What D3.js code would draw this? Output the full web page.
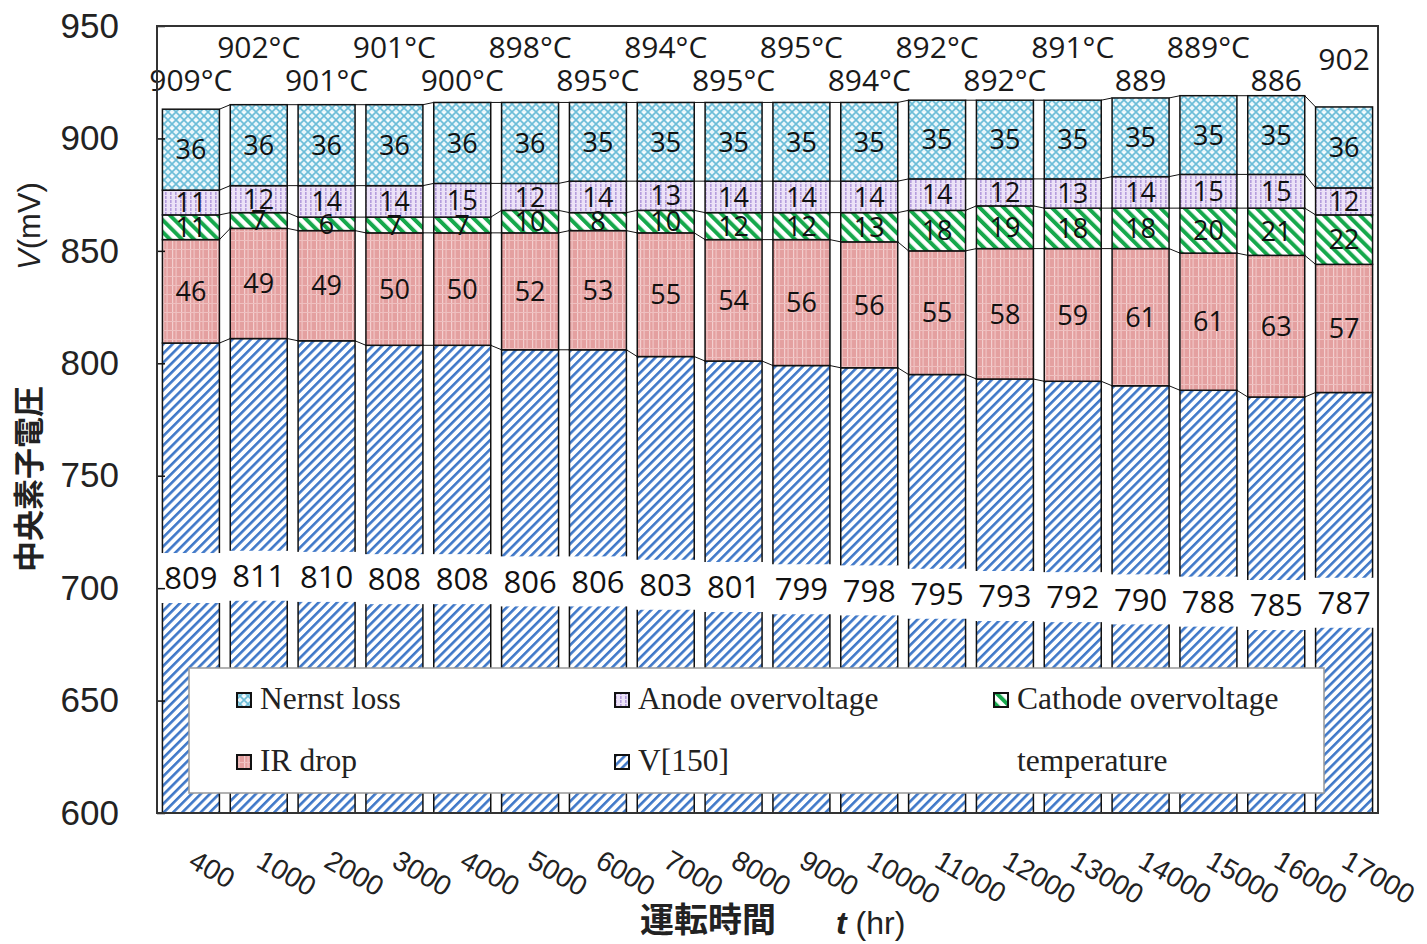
<!DOCTYPE html>
<html>
<head>
<meta charset="utf-8">
<script src="https://cdn.jsdelivr.net/npm/d3@7"></script>
<style>
  body { margin: 0; background: #fff; }
  svg { display: block; }
</style>
</head>
<body>
<div id="chart"></div>
<script>
// operating hours (x categories)
const hours = ["400","1000","2000","3000","4000","5000","6000","7000","8000","9000",
  "10000","11000","12000","13000","14000","15000","16000","17000"];
// stacked components (mV)
const v150    = [809,811,810,808,808,806,806,803,801,799,798,795,793,792,790,788,785,787];
const irDrop  = [46,49,49,50,50,52,53,55,54,56,56,55,58,59,61,61,63,57];
const cathode = [11,7,6,7,7,10,8,10,12,12,13,18,19,18,18,20,21,22];
const anode   = [11,12,14,14,15,12,14,13,14,14,14,14,12,13,14,15,15,12];
const nernst  = [36,36,36,36,36,36,35,35,35,35,35,35,35,35,35,35,35,36];
// temperature labels above the bars
const tempLabels = ["909°C","902°C","901°C","901°C","900°C","898°C","895°C","894°C","895°C",
  "895°C","894°C","892°C","892°C","891°C","889","889°C","886","902"];
const yTicks = [600,650,700,750,800,850,900,950];

const keys = ["v150","ir","cathode","anode","nernst"];
const names = {nernst:"Nernst loss", anode:"Anode overvoltage", cathode:"Cathode overvoltage",
  ir:"IR drop", v150:"V[150]"};

const width = 1427, height = 944;
const plotL = 157, plotR = 1378, plotT = 26, plotB = 813;

const svg = d3.select("#chart").append("svg")
  .attr("width", width).attr("height", height);

// ---- patterns
const defs = svg.append("defs");
function stripes(id, color, size, w, angle) {
  const p = defs.append("pattern").attr("id", id)
    .attr("patternUnits", "userSpaceOnUse")
    .attr("width", size).attr("height", size)
    .attr("patternTransform", `rotate(${angle})`);
  p.append("rect").attr("width", size).attr("height", size).attr("fill", "#fff");
  p.append("rect").attr("width", w).attr("height", size).attr("fill", color);
}
stripes("p-v150", "#3f78c8", 6.5, 2.6, 45);
stripes("p-cathode", "#16a84c", 8.5, 4, -45);

const pn = defs.append("pattern").attr("id", "p-nernst")
  .attr("patternUnits", "userSpaceOnUse").attr("width", 8).attr("height", 8);
pn.append("rect").attr("width", 8).attr("height", 8).attr("fill", "#e8f6fb");
pn.append("path").attr("d", "M0,0L8,8M8,0L0,8")
  .attr("stroke", "#6cbdd8").attr("stroke-width", 1.6);
pn.append("circle").attr("cx", 4).attr("cy", 0).attr("r", 1.2).attr("fill", "#fff");

const pa = defs.append("pattern").attr("id", "p-anode")
  .attr("patternUnits", "userSpaceOnUse").attr("width", 5).attr("height", 4);
pa.append("rect").attr("width", 5).attr("height", 4).attr("fill", "#ece2f7");
pa.append("rect").attr("x", 0).attr("width", 1.6).attr("height", 3).attr("fill", "#b59ddd");

const pi = defs.append("pattern").attr("id", "p-ir")
  .attr("patternUnits", "userSpaceOnUse").attr("width", 9).attr("height", 9);
pi.append("rect").attr("width", 9).attr("height", 9).attr("fill", "#e4a0a0");
pi.append("rect").attr("x", 1).attr("width", 1.2).attr("height", 9).attr("fill", "#f3cfcf");
pi.append("rect").attr("x", 4.5).attr("width", 1.2).attr("height", 9).attr("fill", "#f0c4c4");
pi.append("rect").attr("y", 6).attr("width", 9).attr("height", 1).attr("fill", "#efc0c0");

// ---- scales
const x = d3.scaleBand().domain(hours).range([plotL, plotR])
  .paddingInner(0.16).paddingOuter(0.08);
const y = d3.scaleLinear().domain([600, 950]).range([plotB, plotT]).clamp(true);

const rows = hours.map((h, i) => ({hour: h, v150: v150[i], ir: irDrop[i],
  cathode: cathode[i], anode: anode[i], nernst: nernst[i]}));
const series = d3.stack().keys(keys)(rows);

// ---- bars
const layer = svg.append("g").selectAll("g").data(series).join("g")
  .attr("fill", d => `url(#p-${d.key})`);
layer.selectAll("rect").data(d => d).join("rect")
  .attr("x", d => x(d.data.hour))
  .attr("y", d => y(d[1]))
  .attr("width", x.bandwidth())
  .attr("height", d => y(d[0]) - y(d[1]))
  .attr("stroke", "#111").attr("stroke-width", 1.5);

// ---- series connector lines between bars
const conn = svg.append("g").attr("stroke", "#111").attr("stroke-width", 1);
series.forEach(s => {
  for (let i = 0; i < s.length - 1; i++) {
    conn.append("line")
      .attr("x1", x(hours[i]) + x.bandwidth()).attr("y1", y(s[i][1]))
      .attr("x2", x(hours[i + 1])).attr("y2", y(s[i + 1][1]));
  }
});

// ---- labels: V[150] with white boxes
const baseSeries = series[0];
svg.append("g").selectAll("rect").data(baseSeries).join("rect")
  .attr("x", d => x(d.data.hour) + x.bandwidth() / 2 - x.step() / 2)
  .attr("y", d => y((600 + d[1]) / 2) - 25)
  .attr("width", x.step() + 1).attr("height", 50)
  .attr("fill", "#fff");
svg.append("g").selectAll("text").data(baseSeries).join("text")
  .attr("x", d => x(d.data.hour) + x.bandwidth() / 2)
  .attr("y", d => y((600 + d[1]) / 2))
  .attr("dy", "0.36em")
  .attr("text-anchor", "middle")
  .attr("font-family", "'Open Sans', sans-serif").attr("font-size", 31)
  .attr("fill", "#111")
  .text(d => d.data.v150);

// other segment labels
series.slice(1).forEach(s => {
  svg.append("g").selectAll("text").data(s).join("text")
    .attr("x", d => x(d.data.hour) + x.bandwidth() / 2)
    .attr("y", d => y((d[0] + d[1]) / 2))
    .attr("dy", "0.36em")
    .attr("text-anchor", "middle")
    .attr("font-family", "'Open Sans', sans-serif").attr("font-size", 27)
    .attr("fill", "#111")
    .text(d => d.data[s.key]);
});

// temperature labels (two staggered rows)
svg.append("g").selectAll("text").data(tempLabels).join("text")
  .attr("x", (d, i) => x(hours[i]) + x.bandwidth() / 2)
  .attr("y", (d, i) => i === tempLabels.length - 1 ? 70 : (i % 2 ? 58 : 91))
  .attr("text-anchor", "middle")
  .attr("font-family", "'Open Sans', sans-serif").attr("font-size", 30)
  .attr("fill", "#1a1a1a")
  .text(d => d);

// ---- legend
const lg = svg.append("g");
lg.append("rect").attr("x", 189).attr("y", 668).attr("width", 1135).attr("height", 125)
  .attr("fill", "#fff").attr("stroke", "#999").attr("stroke-width", 1.5);
const legendItems = [
  {key: "nernst", col: 0, row: 0}, {key: "anode", col: 1, row: 0}, {key: "cathode", col: 2, row: 0},
  {key: "ir", col: 0, row: 1}, {key: "v150", col: 1, row: 1}, {key: null, label: "temperature", col: 2, row: 1}
];
const colX = [237, 615, 994];
legendItems.forEach(it => {
  const lx = colX[it.col], ly = 709 + it.row * 62;
  if (it.key) {
    lg.append("rect").attr("x", lx).attr("y", ly - 16).attr("width", 14).attr("height", 14)
      .attr("fill", `url(#p-${it.key})`).attr("stroke", "#111").attr("stroke-width", 2);
  }
  lg.append("text").attr("x", lx + 23).attr("y", ly)
    .attr("font-family", "'Liberation Serif', 'Times New Roman', serif").attr("font-size", 31.5)
    .attr("fill", "#222")
    .text(it.key ? names[it.key] : it.label);
});

// ---- axes and frame
const yAxis = svg.append("g").attr("transform", `translate(${plotL},0)`)
  .call(d3.axisLeft(y).tickValues(yTicks).tickSize(-8).tickPadding(38));
yAxis.select(".domain").remove();
yAxis.selectAll(".tick line").attr("stroke", "#111").attr("stroke-width", 1.5);
yAxis.selectAll("text").attr("font-family", "'Liberation Sans', Arial, sans-serif")
  .attr("font-size", 35).attr("fill", "#222");

svg.append("rect").attr("x", plotL).attr("y", plotT)
  .attr("width", plotR - plotL).attr("height", plotB - plotT)
  .attr("fill", "none").attr("stroke", "#333").attr("stroke-width", 2);

// x tick labels, rotated
svg.append("g").selectAll("text").data(hours).join("text")
  .attr("transform", d => `translate(${x(d) + x.bandwidth() / 2 - 4},866) rotate(30)`)
  .attr("font-family", "'Liberation Sans', Arial, sans-serif").attr("font-size", 28)
  .attr("fill", "#222")
  .text(d => d);

// axis titles
svg.append("text").attr("x", 640).attr("y", 932)
  .attr("font-family", "'Noto Sans CJK JP', sans-serif").attr("font-weight", 700)
  .attr("font-size", 34).attr("fill", "#222").text("運転時間");
const xt = svg.append("text").attr("x", 836).attr("y", 934)
  .attr("font-family", "'Liberation Sans', Arial, sans-serif")
  .attr("font-size", 32).attr("fill", "#222");
xt.append("tspan").attr("font-style", "italic").attr("font-weight", 700).text("t");
xt.append("tspan").text(" (hr)");

const yt = svg.append("text").attr("transform", "translate(40,572) rotate(-90)")
  .attr("font-size", 31).attr("fill", "#222");
yt.append("tspan").attr("font-family", "'Noto Sans CJK JP', sans-serif")
  .attr("font-weight", 700).text("中央素子電圧");
yt.append("tspan").attr("dx", 116).attr("font-style", "italic")
  .attr("font-family", "'Liberation Sans', Arial, sans-serif").text("V");
yt.append("tspan").attr("font-family", "'Liberation Sans', Arial, sans-serif").text("(mV)");
</script>
</body>
</html>
